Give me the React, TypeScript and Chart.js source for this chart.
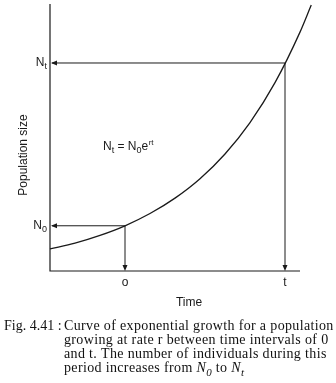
import React, { useEffect, useRef } from "react";
import { Chart, registerables } from "chart.js";

Chart.register(...registerables);

// Data (time units vs population units)
const timeValues = [0, 1, 2, 3, 4, 5, 6, 7, 8, 9, 10, 10.45];
const populationValues = [8.3, 10.5, 13.4, 17.0, 21.6, 27.4, 34.7, 44.0, 55.8, 70.8, 89.8, 100];
const markerTimes = [3, 9.4];
const markerTimeLabels = ["o", "t"];
const markerLevels = [17.0, 78.2];
const markerLevelSubs = ["0", "t"];
const xAxisEnd = 10;
const yAxisEnd = 100;
const xAxisTitle = "Time";
const yAxisTitle = "Population size";
const captionLead = "Fig. 4.41 :";
const captionLines = [
  "Curve of exponential growth for a population",
  "growing at rate r between time intervals of 0",
  "and t. The number of individuals during this",
];
const captionLastPrefix = "period increases from ";

const INK = "#1a1a1a";
const SANS = "'Liberation Sans', Arial, sans-serif";
const SERIF = "'Liberation Serif', 'DejaVu Serif', serif";

function arrowHead(ctx: CanvasRenderingContext2D, x: number, y: number, dir: "left" | "down") {
  ctx.beginPath();
  if (dir === "left") {
    ctx.moveTo(x, y);
    ctx.lineTo(x + 6, y - 2.5);
    ctx.lineTo(x + 6, y + 2.5);
  } else {
    ctx.moveTo(x, y);
    ctx.lineTo(x - 2.5, y - 6);
    ctx.lineTo(x + 2.5, y - 6);
  }
  ctx.closePath();
  ctx.fill();
}

function subLabelWidth(ctx: CanvasRenderingContext2D, main: string, sub: string, size: number, family: string) {
  ctx.font = `${size}px ${family}`;
  const w1 = ctx.measureText(main).width;
  ctx.font = `${Math.round(size * 0.75)}px ${family}`;
  return w1 + ctx.measureText(sub).width;
}

function drawSub(
  ctx: CanvasRenderingContext2D,
  x: number,
  baseline: number,
  main: string,
  sub: string,
  size: number,
  family: string,
  style = ""
) {
  ctx.textAlign = "left";
  ctx.textBaseline = "alphabetic";
  ctx.font = `${style}${size}px ${family}`;
  ctx.fillText(main, x, baseline);
  const w = ctx.measureText(main).width;
  ctx.font = `${style}${Math.round(size * 0.75)}px ${family}`;
  ctx.fillText(sub, x + w, baseline + size * 0.25);
  return x + w + ctx.measureText(sub).width;
}

const overlayPlugin = {
  id: "overlay",
  afterDraw(chart: any) {
    const ctx: any = chart.ctx;
    const xs = chart.scales.x;
    const ys = chart.scales.y;
    const x0 = xs.getPixelForValue(0);
    const y0 = ys.getPixelForValue(0);
    ctx.save();
    ctx.strokeStyle = INK;
    ctx.fillStyle = INK;
    ctx.lineWidth = 1.2;

    // axes
    ctx.beginPath();
    ctx.moveTo(x0, ys.getPixelForValue(yAxisEnd) - 1);
    ctx.lineTo(x0, y0);
    ctx.lineTo(xs.getPixelForValue(xAxisEnd), y0);
    ctx.stroke();

    // marker arrows
    ctx.lineWidth = 1;
    markerTimes.forEach((t, i) => {
      const px = xs.getPixelForValue(t);
      const py = ys.getPixelForValue(markerLevels[i]);
      ctx.beginPath();
      ctx.moveTo(px, py);
      ctx.lineTo(x0 + 2, py);
      ctx.moveTo(px, py);
      ctx.lineTo(px, y0 - 2);
      ctx.stroke();
      arrowHead(ctx, x0 + 1, py, "left");
      arrowHead(ctx, px, y0, "down");

      // y labels N0 / Nt
      const w = subLabelWidth(ctx, "N", markerLevelSubs[i], 12, SANS);
      drawSub(ctx, x0 - 3 - w, py + 3, "N", markerLevelSubs[i], 12, SANS);

      // x labels
      ctx.font = `12px ${SANS}`;
      ctx.textAlign = "center";
      ctx.textBaseline = "middle";
      ctx.fillText(markerTimeLabels[i], px, y0 + 12);
    });

    // axis titles
    ctx.font = `12px ${SANS}`;
    ctx.textAlign = "center";
    ctx.textBaseline = "middle";
    ctx.fillText(xAxisTitle, 189, y0 + 32);
    ctx.save();
    ctx.translate(24, 155);
    ctx.rotate(-Math.PI / 2);
    ctx.fillText(yAxisTitle, 0, 0);
    ctx.restore();

    // equation
    let ex = 103;
    const eb = 150;
    ex = drawSub(ctx, ex, eb, "N", "t", 12, SANS);
    ctx.font = `12px ${SANS}`;
    ctx.fillText(" = ", ex, eb);
    ex += ctx.measureText(" = ").width;
    ex = drawSub(ctx, ex, eb, "N", "0", 12, SANS);
    ctx.font = `12px ${SANS}`;
    ctx.fillText("e", ex, eb);
    ex += ctx.measureText("e").width;
    ctx.font = `8px ${SANS}`;
    ctx.fillText("rt", ex + 0.5, eb - 5);

    // caption
    const size = 14;
    ctx.font = `${size}px ${SERIF}`;
    ctx.textAlign = "left";
    ctx.textBaseline = "alphabetic";
    ctx.fillStyle = "#111";
    ctx.fillText(captionLead, 4, 330);
    ctx.letterSpacing = "0.35px";
    const indent = 64;
    captionLines.forEach((line, i) => {
      ctx.fillText(line, indent, 330 + i * 14);
    });
    let cx = indent;
    const cb = 330 + 3 * 14;
    ctx.fillText(captionLastPrefix, cx, cb);
    cx += ctx.measureText(captionLastPrefix).width;
    cx = drawSub(ctx, cx, cb, "N", "0", size, SERIF, "italic ");
    ctx.font = `${size}px ${SERIF}`;
    ctx.fillText(" to ", cx, cb);
    cx += ctx.measureText(" to ").width;
    drawSub(ctx, cx, cb, "N", "t", size, SERIF, "italic ");
    ctx.letterSpacing = "0px";

    ctx.restore();
  },
};

export default function App() {
  const ref = useRef<HTMLCanvasElement | null>(null);
  useEffect(() => {
    if (!ref.current) return;
    const chart = new Chart(ref.current, {
      type: "line",
      data: {
        datasets: [
          {
            data: timeValues.map((t, i) => ({ x: t, y: populationValues[i] })),
            borderColor: INK,
            borderWidth: 1.3,
            pointRadius: 0,
            cubicInterpolationMode: "monotone",
            fill: false,
            clip: false as any,
          },
        ],
      },
      options: {
        animation: false,
        responsive: false,
        events: [],
        layout: { padding: { left: 50, top: 5, right: 23.5, bottom: 112 } },
        plugins: { legend: { display: false }, tooltip: { enabled: false }, title: { display: false } },
        scales: {
          x: { type: "linear", min: 0, max: 10.5, display: false },
          y: { type: "linear", min: 0, max: 100, display: false },
        },
      },
      plugins: [overlayPlugin],
    });
    return () => chart.destroy();
  }, []);
  return (
    <div style={{ position: "absolute", left: 0, top: 0, width: 336, height: 383, background: "#fff" }}>
      <canvas ref={ref} width={336} height={383} style={{ display: "block", width: 336, height: 383 }} />
    </div>
  );
}
